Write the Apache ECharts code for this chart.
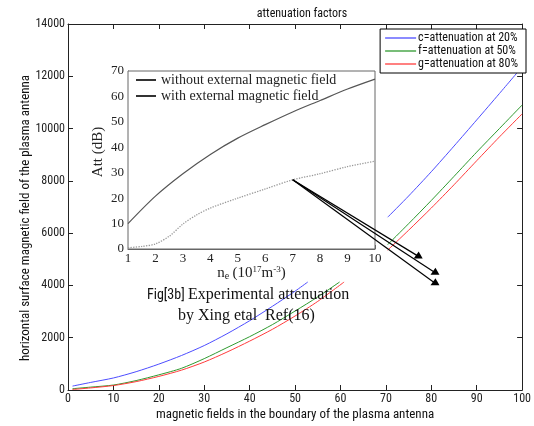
<!DOCTYPE html>
<html><head><meta charset="utf-8">
<script src="https://cdn.jsdelivr.net/npm/echarts@6/dist/echarts.min.js"></script>
<style>html,body{margin:0;padding:0;background:#fff}#c{width:534px;height:426px}</style>
</head><body><div id="c"></div>
<script>
// Surface field vs. boundary field, one curve per attenuation level (two visible stretches each)
const lowFieldC = [1, 5, 10, 15, 20, 25, 30, 35, 40, 45, 50, 52.8];
const lowValC   = [150, 290, 460, 700, 990, 1320, 1700, 2150, 2650, 3200, 3780, 4130];
const lowFieldF = [1, 5, 10, 15, 20, 25, 30, 35, 40, 45, 50, 55, 59.8];
const lowValF   = [50, 110, 190, 360, 580, 830, 1200, 1620, 2040, 2500, 3020, 3560, 4130];
const lowFieldG = [1, 5, 10, 15, 20, 25, 30, 35, 40, 45, 50, 55, 60.8];
const lowValG   = [20, 80, 170, 320, 520, 760, 1070, 1450, 1870, 2320, 2830, 3390, 4130];
const highField = [70.4, 75, 80, 85, 90, 95, 100];
const highValC  = [6610, 7420, 8350, 9330, 10330, 11340, 12360];
const highValF  = [5560, 6360, 7250, 8170, 9100, 10000, 10900];
const highValG  = [5350, 6110, 6960, 7850, 8770, 9680, 10560];
const seriesNames = ['c=attenuation at 20%', 'f=attenuation at 50%', 'g=attenuation at 80%'];

// Inset: measured attenuation vs electron density
const densityA = [1, 2, 3, 4, 5, 6, 7, 8, 9, 10];
const attWithout = [10, 20.8, 29.6, 37.2, 43.6, 48.9, 53.9, 58.4, 62.9, 66.8];
const densityB = [1, 1.5, 2, 2.5, 3, 3.5, 4, 5, 6, 7, 8, 9, 10];
const attWith = [0.5, 1, 2, 5, 9.8, 13.4, 16.1, 20, 23.6, 27.2, 29.6, 32.4, 34.5];
const insetNames = ['without external magnetic field', 'with external magnetic field'];

// Arrow from the inset curve at n_e = 7 to points in the main plot
const arrowFrom = [7, 27.2];
const arrowTo = [[77.0, 5130], [80.7, 4500], [80.7, 4100]];

const SANS = '"Liberation Sans Narrow", "Arial Narrow", "Roboto Condensed", Arial, sans-serif';
const SERIF = '"Liberation Serif", "Times New Roman", "DejaVu Serif", serif';

function joined(f1, v1, f2, v2) {
  const a = f1.map((x, i) => [x, v1[i]]);
  a.push([65, '-']);
  return a.concat(f2.map((x, i) => [x, v2[i]]));
}

const chart = echarts.init(document.getElementById('c'), null, {renderer: 'canvas'});
const axisCol = '#222';
const mainLine = {show: true, onZero: false, lineStyle: {color: axisCol, width: 1}};
const mainTick = {show: true, inside: true, length: 5, lineStyle: {color: axisCol}};
const insetCol = '#666';
const plain = v => String(v);

chart.setOption({
  animation: false,
  backgroundColor: '#fff',
  title: {
    text: 'attenuation factors', left: 297, top: 3, textAlign: 'center',
    textStyle: {fontFamily: SANS, fontSize: 12, fontWeight: 'normal', color: '#111'}
  },
  legend: [{
    data: seriesNames, orient: 'vertical', right: 8, top: 29,
    backgroundColor: '#fff', borderColor: '#000', borderWidth: 1, borderRadius: 0,
    padding: [3, 8, 3, 5], itemGap: 1, itemWidth: 31, itemHeight: 1.3, icon: 'rect',
    textStyle: {fontFamily: SANS, fontSize: 12, color: '#111', padding: [0, 0, 0, -3]}
  }, {
    data: insetNames.map(n => ({name: n, itemStyle: {color: '#333'}})),
    orient: 'vertical', left: 136, top: 73, padding: 0, itemGap: 2,
    itemWidth: 20, itemHeight: 2, icon: 'rect',
    textStyle: {fontFamily: SERIF, fontSize: 14, color: '#222'}
  }],
  grid: [
    {left: 68, top: 24, right: 8, bottom: 34, show: false},
    {left: 128, top: 71, width: 247, height: 178, show: true, backgroundColor: '#fff',
     borderColor: insetCol, borderWidth: 1, z: 3}
  ],
  xAxis: [
    {gridIndex: 0, type: 'value', min: 0, max: 100, interval: 10, position: 'bottom',
     name: 'magnetic fields in the boundary of the plasma antenna', nameLocation: 'middle', nameGap: 18,
     nameMoveOverlap: false,
     nameTextStyle: {fontFamily: SANS, fontSize: 13, color: '#111'},
     axisLine: mainLine, axisTick: mainTick,
     axisLabel: {fontFamily: SANS, fontSize: 12, color: '#222', margin: 3, formatter: plain}, splitLine: {show: false}},
    {gridIndex: 0, type: 'value', min: 0, max: 100, interval: 10, position: 'top',
     axisLine: mainLine, axisTick: mainTick,
     axisLabel: {show: false}, splitLine: {show: false}},
    {gridIndex: 1, type: 'value', min: 1, max: 10, interval: 1, position: 'bottom',
     name: '{n|n}{s|e} {n|(10}{p|17}{n|m}{p|-3}{n|)}', nameLocation: 'middle', nameGap: 16,
     nameMoveOverlap: false,
     nameTextStyle: {rich: {
       n: {fontFamily: SERIF, fontSize: 15, color: '#222'},
       s: {fontFamily: SERIF, fontSize: 10, color: '#222', verticalAlign: 'bottom', padding: [6, 0, 0, 0]},
       p: {fontFamily: SERIF, fontSize: 9, color: '#222', verticalAlign: 'top', padding: [0, 0, 6, 0]}
     }},
     axisLine: {show: true, lineStyle: {color: insetCol}},
     axisTick: {show: true, inside: true, length: 4, lineStyle: {color: insetCol}},
     minorTick: {show: true, splitNumber: 2, length: 2, lineStyle: {color: insetCol}},
     axisLabel: {fontFamily: SERIF, fontSize: 13, color: '#222', margin: 3}, splitLine: {show: false}}
  ],
  yAxis: [
    {gridIndex: 0, type: 'value', min: 0, max: 14000, interval: 2000, position: 'left',
     name: 'horizontal surface magnetic field of the plasma antenna', nameLocation: 'middle', nameGap: 36,
     nameMoveOverlap: false,
     nameTextStyle: {fontFamily: SANS, fontSize: 13, color: '#111', padding: [0, 22, 0, 0]},
     axisLine: mainLine, axisTick: mainTick,
     axisLabel: {fontFamily: SANS, fontSize: 12, color: '#222', margin: 3, formatter: plain}, splitLine: {show: false}},
    {gridIndex: 0, type: 'value', min: 0, max: 14000, interval: 2000, position: 'right',
     axisLine: mainLine, axisTick: mainTick,
     axisLabel: {show: false}, splitLine: {show: false}},
    {gridIndex: 1, type: 'value', min: 0, max: 70, interval: 10, position: 'left',
     name: 'Att (dB)', nameLocation: 'middle', nameGap: 22, nameMoveOverlap: false,
     nameTextStyle: {fontFamily: SERIF, fontSize: 15, color: '#222', padding: [0, 0, 0, 16]},
     axisLine: {show: true, lineStyle: {color: insetCol}},
     axisTick: {show: true, inside: true, length: 4, lineStyle: {color: insetCol}},
     minorTick: {show: true, splitNumber: 2, length: 2, lineStyle: {color: insetCol}},
     axisLabel: {fontFamily: SERIF, fontSize: 13, color: '#222', margin: 4}, splitLine: {show: false}}
  ],
  series: [
    {name: seriesNames[0], type: 'line', xAxisIndex: 0, yAxisIndex: 0, showSymbol: false, smooth: 0.25,
     color: '#4d4dff', lineStyle: {width: 1, color: '#4d4dff'}, data: joined(lowFieldC, lowValC, highField, highValC)},
    {name: seriesNames[1], type: 'line', xAxisIndex: 0, yAxisIndex: 0, showSymbol: false, smooth: 0.25,
     color: '#2f9a2f', lineStyle: {width: 1, color: '#2f9a2f'}, data: joined(lowFieldF, lowValF, highField, highValF)},
    {name: seriesNames[2], type: 'line', xAxisIndex: 0, yAxisIndex: 0, showSymbol: false, smooth: 0.25,
     color: '#ff3b3b', lineStyle: {width: 1, color: '#ff3b3b'}, data: joined(lowFieldG, lowValG, highField, highValG)},
    {name: insetNames[0], type: 'line', xAxisIndex: 2, yAxisIndex: 2, showSymbol: false, smooth: 0.3, z: 5,
     color: '#555', lineStyle: {width: 1.2, color: '#555'}, data: densityA.map((x, i) => [x, attWithout[i]])},
    {name: insetNames[1], type: 'line', xAxisIndex: 2, yAxisIndex: 2, showSymbol: false, smooth: 0.3, z: 5,
     color: '#999', lineStyle: {width: 1.3, color: '#999', type: 'dotted'}, data: densityB.map((x, i) => [x, attWith[i]])}
  ]
});

// Arrows and caption, anchored to the axes
const p0 = chart.convertToPixel({xAxisIndex: 2, yAxisIndex: 2}, arrowFrom);
const graphics = [];
arrowTo.forEach(t => {
  const p = chart.convertToPixel({xAxisIndex: 0, yAxisIndex: 0}, t);
  graphics.push({type: 'line', z: 20, shape: {x1: p0[0], y1: p0[1], x2: p[0], y2: p[1]},
    style: {stroke: '#000', lineWidth: 1.2}});
  graphics.push({type: 'polygon', z: 21,
    shape: {points: [[p[0] + 1, p[1] - 4.5], [p[0] - 4, p[1] + 2.5], [p[0] + 5, p[1] + 2.5]]},
    style: {fill: '#000'}});
});
graphics.push({
  type: 'text', z: 20, left: 147, top: 287,
  style: {text: '{a|Fig[3b]} {b|Experimental attenuation}', rich: {
    a: {fontFamily: SANS, fontSize: 14, fill: '#111'},
    b: {fontFamily: SERIF, fontSize: 16, fill: '#111'}
  }}
});
graphics.push({
  type: 'text', z: 20, left: 178, top: 308,
  style: {text: 'by Xing etal  Ref(16)', fontFamily: SERIF, fontSize: 16, fill: '#111'}
});
chart.setOption({graphic: graphics});
</script>
</body></html>
